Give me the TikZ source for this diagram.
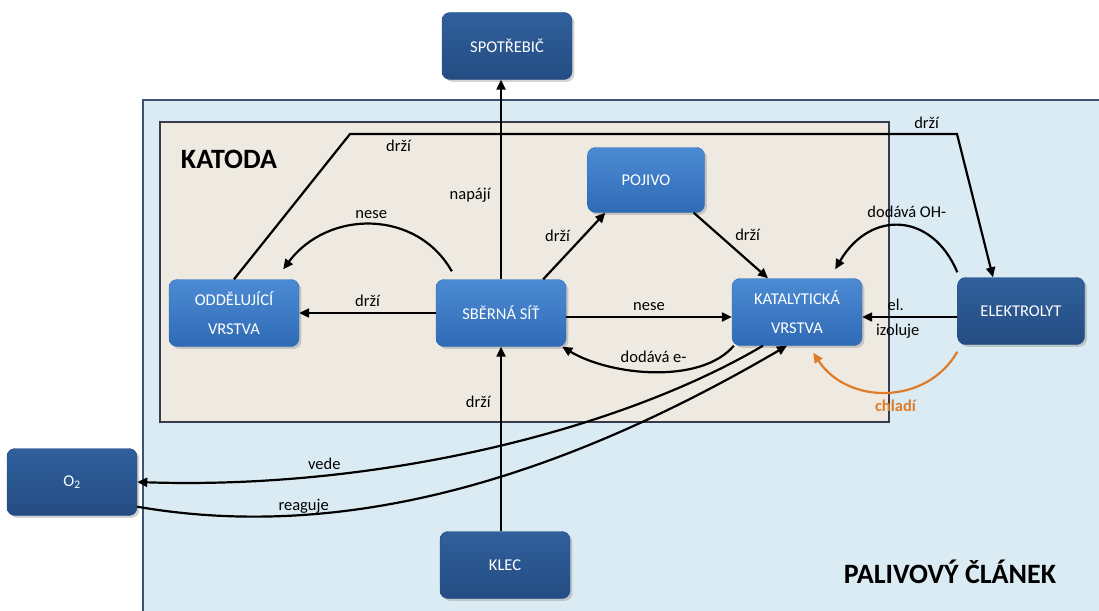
\documentclass[tikz,border=0pt]{standalone}
\usepackage{fontspec}
\setmainfont{Carlito}
\usetikzlibrary{shadows,arrows.meta,positioning}

\definecolor{cellfill}{HTML}{DAEBF3}
\definecolor{cellline}{HTML}{3E5272}
\definecolor{katfill}{HTML}{EEEAE1}
\definecolor{katline}{HTML}{3A3A4E}
\definecolor{inblue}{HTML}{4C8BD3}
\definecolor{inblueD}{HTML}{2F6BB5}
\definecolor{outblue}{HTML}{30609C}
\definecolor{outblueD}{HTML}{244C82}
\definecolor{coolorange}{HTML}{E07B28}

\begin{document}
\begin{tikzpicture}[x=1pt,y=-1pt,
	box/.style		=	{rounded corners=8pt,minimum width=130pt,minimum height=67pt,align=center,
							text=white,font=\fontsize{16.5}{29}\selectfont,drop shadow={opacity=.35}},
	inner box/.style	=	{box,top color=inblue,bottom color=inblueD,draw=inblueD},
	outer box/.style	=	{box,top color=outblue,bottom color=outblueD,draw=outblueD},
	rel/.style		=	{draw=black,line width=2.2pt,-{Triangle[length=10pt,width=9pt]}},
	lab/.style		=	{font=\fontsize{16.5}{18}\selectfont,text=black}]

	\useasboundingbox (0,0) rectangle (1099,610);

	% cell and cathode
	\draw[fill=cellfill,draw=cellline,line width=1.4pt] (143,100) rectangle (1110,620);
	\draw[fill=katfill,draw=katline,line width=1.6pt] (160,122) rectangle (889,422);
	\node[font=\fontsize{28}{30}\selectfont\bfseries] (katoda) at (229,159) {KATODA};
	\node[font=\fontsize{28}{30}\selectfont\bfseries] (clanek) at (950,572) {PALIVOVÝ ČLÁNEK};

	% boxes
	\node[outer box] (spotrebic) at (507,46) {SPOTŘEBIČ};
	\node[inner box,minimum width=117pt,minimum height=65pt] (pojivo) at (646,180) {POJIVO};
	\node[inner box] (oddel) at (234,313) {ODDĚLUJÍCÍ\\VRSTVA};
	\node[inner box] (sit) at (501,313) {SBĚRNÁ SÍŤ};
	\node[inner box] (katal) at (797,312) {KATALYTICKÁ\\VRSTVA};
	\node[outer box,minimum width=127pt] (elektro) at (1021,311) {ELEKTROLYT};
	\node[outer box] (kyslik) at (72,482) {O\textsubscript{2}};
	\node[outer box] (klec) at (505,565) {KLEC};

	\coordinate (bendL) at (350,134);
	\coordinate (bendR) at (957,134);

	% relations
	\draw[rel] (sit.north) -- (sit.north |- spotrebic.south) node[lab,pos=.42,left=6pt] {napájí};
	\draw[rel] (sit.south |- klec.north) -- (sit.south) node[lab,pos=.7,left=6pt] {drží};
	\draw[rel] (sit.west) -- (oddel.east) node[lab,midway,above=2pt] {drží};
	\draw[rel] ([xshift=16pt,yshift=8pt]sit.north west) .. controls +(-35,-62) and +(45,-60) ..
		([xshift=-16pt,yshift=10pt]oddel.north east) node[lab,pos=.5,above=1pt] {nese};
	\draw[rel] (oddel.north) -- (bendL) -- node[lab,pos=.08,below=2pt] {drží} node[lab,pos=.95,above=1pt] {drží}
		(bendR) -- ([xshift=-28pt]elektro.north);
	\draw[rel] ([xshift=-23pt]sit.north east) -- ([xshift=18pt]pojivo.south west) node[lab,midway,above left] {drží};
	\draw[rel] ([xshift=-11pt]pojivo.south east) -- ([xshift=-29pt]katal.north) node[lab,midway,above right] {drží};
	\draw[rel] (sit.east |- 0,317) -- (katal.west |- 0,317) node[lab,midway,above=2pt] {nese};
	\draw[rel] ([xshift=2pt]katal.south west) .. controls +(-33,39) and +(48,29) ..
		([xshift=-4pt]sit.south east) node[lab,pos=.5,above=5pt] {dodává e-};
	\draw[rel] ([yshift=5pt]elektro.north west) .. controls +(-25,-60) and +(35,-60) ..
		([xshift=-27pt,yshift=9pt]katal.north east) node[lab,pos=.45,above=4pt] {dodává OH-};
	\draw[rel] (elektro.west |- 0,317) -- (katal.east |- 0,317)
		node[lab,pos=.78,anchor=south west,yshift=2pt] {el.} node[lab,pos=.9,anchor=north west,yshift=-3pt] {izoluje};
	\draw[rel,draw=coolorange] ([yshift=-7pt]elektro.south west) .. controls +(-30,53) and +(35,53) ..
		([xshift=-49pt,yshift=-7pt]katal.south east) node[lab,pos=.45,below=4pt,text=coolorange,font=\fontsize{16.5}{18}\selectfont\bfseries] {chladí};
	\draw[rel] ([xshift=-34pt]katal.south) .. controls (620,430) and (380,490) ..
		(kyslik.east) node[lab,pos=.74,above=1pt] {vede};
	\draw[rel] ([yshift=9pt]kyslik.south east) .. controls (330,540) and (540,490) ..
		([xshift=-10pt]katal.south) node[lab,pos=.28,above=-3pt] {reaguje};
\end{tikzpicture}
\end{document}
